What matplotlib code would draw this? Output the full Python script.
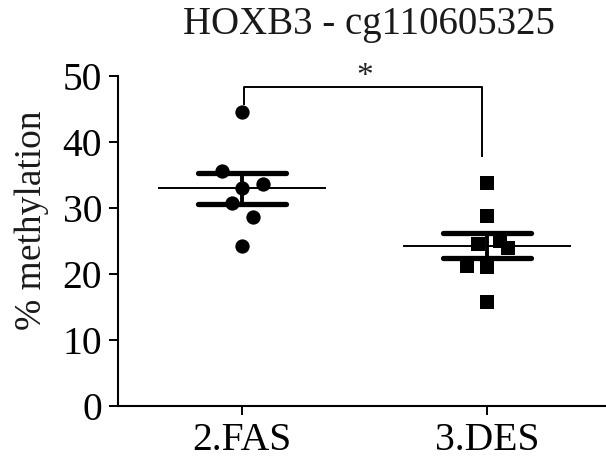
import matplotlib
matplotlib.use('Agg')
import matplotlib.pyplot as plt
import numpy as np

title = 'HOXB3 - cg110605325'
groups = ['2.FAS', '3.DES']
fas_values = [44.6, 35.6, 33.7, 33.1, 30.8, 28.6, 24.3]
fas_jitter = [0.0, -0.082, 0.085, 0.0, -0.041, 0.044, 0.0]
des_values = [33.8, 28.8, 25.0, 24.5, 23.9, 21.2, 21.1, 15.8]
des_jitter = [0.0, 0.0, 0.053, -0.037, 0.084, -0.082, 0.0, 0.0]
sig_label = '*'

plt.rcParams['font.family'] = ['Liberation Serif', 'DejaVu Serif']

fig = plt.figure(figsize=(6.06, 4.59), dpi=100)
ax = fig.add_axes([0.1947, 0.1155, 0.8053, 0.719])

datas = [(fas_values, fas_jitter, 'o'), (des_values, des_jitter, 's')]
for i, (vals, jit, mk) in enumerate(datas):
    vals = np.asarray(vals)
    xs = i + np.asarray(jit)
    ax.plot(xs, vals, linestyle='none', marker=mk, markersize=10.3,
            color='black', markeredgewidth=0, zorder=3)
    mean = vals.mean()
    sem = vals.std(ddof=1) / np.sqrt(len(vals))
    ax.plot([i - 0.34, i + 0.34], [mean, mean], color='black', lw=1.4, zorder=4)
    ax.plot([i, i], [mean - sem, mean + sem], color='black', lw=2.8, zorder=4)
    for v in (mean - sem, mean + sem):
        ax.plot([i - 0.18, i + 0.18], [v, v], color='black', lw=3.8,
                solid_capstyle='round', zorder=4)

# significance bracket
ax.plot([0.01, 0.01, 0.98, 0.98], [45.7, 48.3, 48.3, 37.8], color='black',
        lw=1.4, clip_on=False, zorder=2)
ax.text(0.5, 49.9, sig_label, ha='center', va='center', fontsize=24,
        color='#222222', clip_on=False)

ax.set_xlim(-0.506, 1.486)
ax.set_ylim(0, 50)
ax.set_yticks([0, 10, 20, 30, 40, 50])
ax.set_xticks([0, 1])
ax.set_xticklabels(groups)
ax.tick_params(axis='both', labelsize=28.5, length=6.5, width=1.4, pad=5,
               colors='black')
ax.tick_params(axis='x', pad=5)
for s in ['top', 'right']:
    ax.spines[s].set_visible(False)
for s in ['left', 'bottom']:
    ax.spines[s].set_linewidth(1.5)
ax.set_ylabel('% methylation', fontsize=27, color='#1a1a1a')
ax.yaxis.set_label_coords(-0.142, 0.564)
ax.set_title(title, fontsize=28, pad=30, color='#1a1a1a', x=0.514)

fig.savefig('out.png', dpi=100)
